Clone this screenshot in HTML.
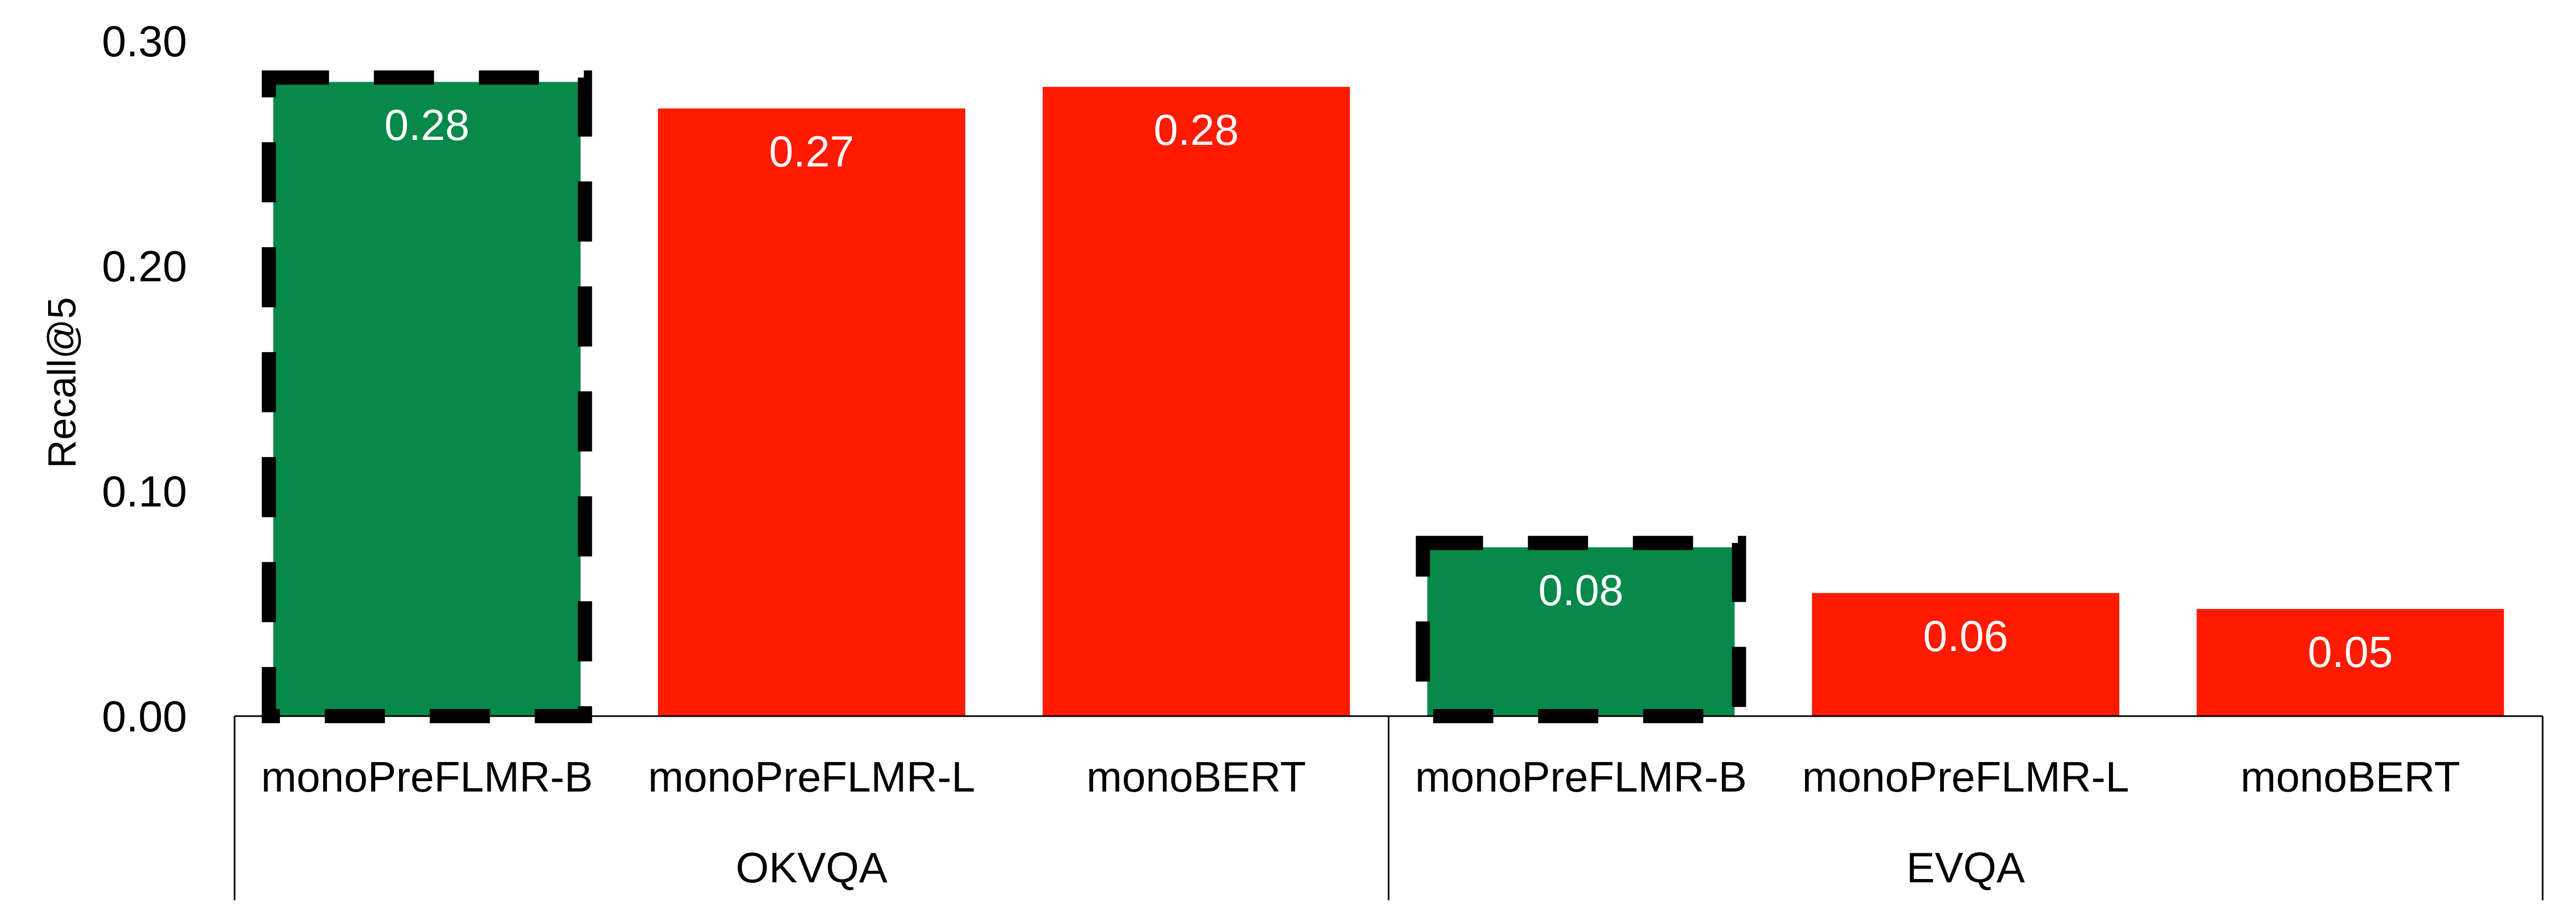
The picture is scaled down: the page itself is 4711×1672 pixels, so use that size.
<!DOCTYPE html>
<html><head><meta charset="utf-8">
<style>
html,body{margin:0;padding:0;background:#fff;}
svg{display:block;font-family:"Liberation Sans",sans-serif;}
</style></head>
<body>
<svg id="chart" width="4711" height="1672" viewBox="0 0 4711 1672" xmlns="http://www.w3.org/2000/svg"></svg>
<script>
const groups = ["OKVQA", "EVQA"];
const models = ["monoPreFLMR-B", "monoPreFLMR-L", "monoBERT"];
const values = [0.2818, 0.2700, 0.2796, 0.0750, 0.0547, 0.0476];
const valueLabels = ["0.28", "0.27", "0.28", "0.08", "0.06", "0.05"];
const highlighted = [true, false, false, true, false, false];
const yTicks = [0, 0.1, 0.2, 0.3];
const yTickLabels = ["0.00", "0.10", "0.20", "0.30"];

const NS = "http://www.w3.org/2000/svg";
const svg = document.getElementById("chart");
const x0 = 429, slotW = 703.5, barW = 562;
const yBase = 1310, pxPerUnit = 4117;
function yScale(v){ return yBase - v * pxPerUnit; }
function xCenter(i){ return x0 + slotW * (i + 0.5); }
function mk(tag, attrs){ const e = document.createElementNS(NS, tag); for (const k in attrs) e.setAttribute(k, attrs[k]); svg.appendChild(e); return e; }

// y ticks
yTicks.forEach((t, i) => {
  const tx = mk("text", {x: 342, y: yScale(t) + 28, "text-anchor": "end", "font-size": 80, fill: "#000"});
  tx.textContent = yTickLabels[i];
  
  
});
// y title
const yt = mk("text", {x: 0, y: 0, transform: "translate(138,700) rotate(-90)", "text-anchor": "middle", "font-size": 72, fill: "#000"});
yt.textContent = "Recall@5";



// bars
values.forEach((v, i) => {
  const cx = xCenter(i), top = yScale(v);
  const r = mk("rect", {x: cx - barW/2, y: top, width: barW, height: yBase - top, fill: highlighted[i] ? "#07894A" : "#FF1A00"});
  
  
  if (highlighted[i]) {
    const o = mk("rect", {x: cx - barW/2 - 8, y: top - 8, width: barW + 16, height: yBase - top + 8, fill: "none", stroke: "#000", "stroke-width": 26, "stroke-dasharray": "110 82"});
    
    
  }
  const lbl = mk("text", {x: cx, y: top + 106, "text-anchor": "middle", "font-size": 80, fill: "#fff"});
  lbl.textContent = valueLabels[i];
  
  
  const cl = mk("text", {x: cx, y: 1448, "text-anchor": "middle", "font-size": 78, fill: "#000"});
  cl.textContent = models[i % 3];
  
  
});

// axis lines
const xEnd = x0 + slotW * values.length;
const ax = mk("line", {x1: x0, y1: yBase, x2: xEnd, y2: yBase, stroke: "#000", "stroke-width": 3});


for (let g = 0; g <= groups.length; g++) {
  const gx = x0 + slotW * 3 * g;
  const l = mk("line", {x1: gx, y1: yBase, x2: gx, y2: 1647, stroke: "#000", "stroke-width": 3});
  
  
}
groups.forEach((g, gi) => {
  const t = mk("text", {x: x0 + slotW * 3 * (gi + 0.5), y: 1614, "text-anchor": "middle", "font-size": 78, fill: "#000"});
  t.textContent = g;
  
  
});
</script>
</body></html>
